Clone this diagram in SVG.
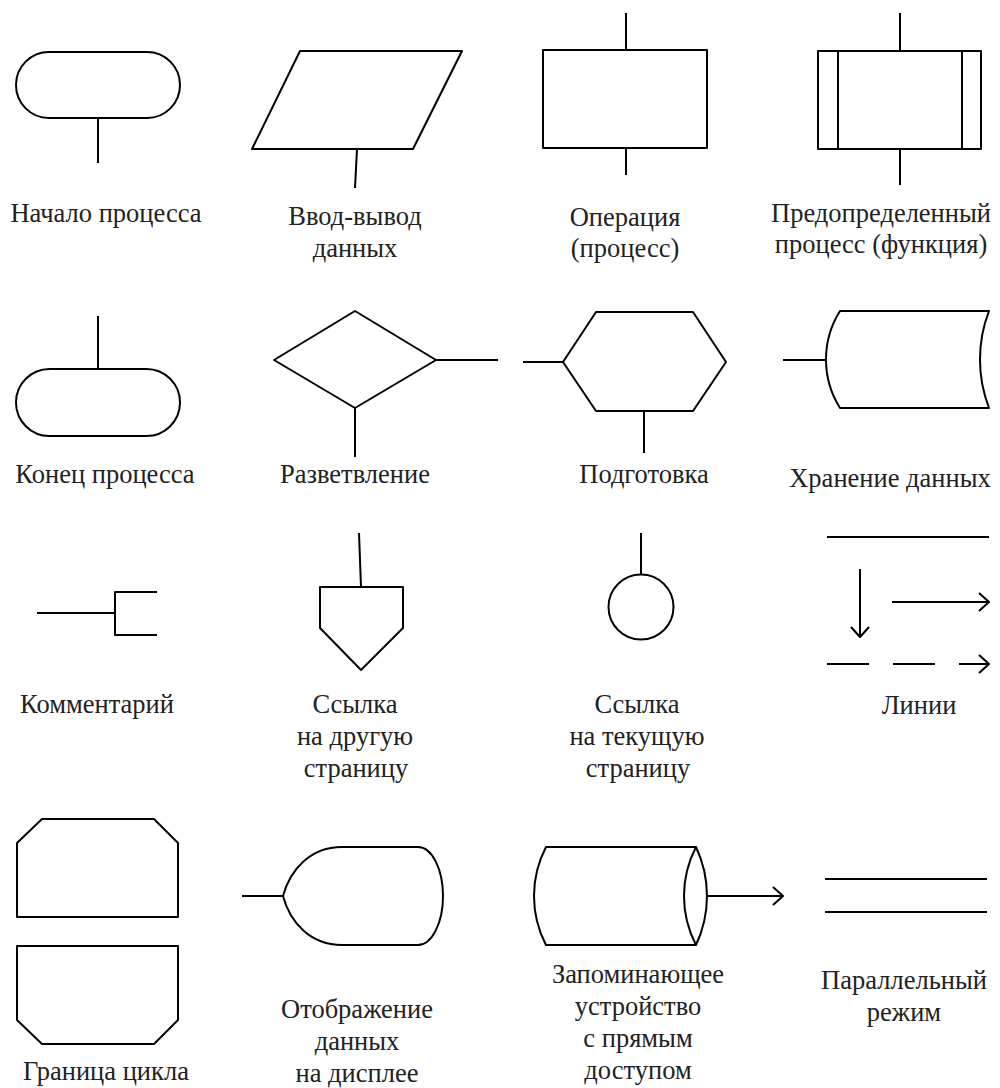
<svg xmlns="http://www.w3.org/2000/svg" width="1000" height="1088" viewBox="0 0 1000 1088">
<style>
.s{fill:none;stroke:#000;stroke-width:2;stroke-linejoin:round}
.t{font-family:"Liberation Serif","Times New Roman",serif;font-size:26.5px;fill:#222;text-anchor:middle}
</style>
<defs>
<marker id="ah" markerUnits="userSpaceOnUse" viewBox="0 0 12 20" refX="11" refY="10" markerWidth="12" markerHeight="20" orient="auto">
<path d="M1,1 L11,10 L1,19" fill="none" stroke="#000" stroke-width="2" stroke-linejoin="round"/>
</marker>
</defs>
<rect width="1000" height="1088" fill="#fff"/>

<g id="start">
<rect class="s" x="16" y="52" width="164" height="66" rx="33"/>
<text class="t" x="106" y="222">Начало процесса</text>
</g>
<g id="io">
<polygon class="s" points="300,51 462,51 413,149 252,149"/>
<text class="t" x="355" y="225">Ввод-вывод</text>
<text class="t" x="355" y="257">данных</text>
</g>
<g id="process">
<rect class="s" x="543" y="50" width="164" height="98"/>
<text class="t" x="625" y="226">Операция</text>
<text class="t" x="625" y="257">(процесс)</text>
</g>
<g id="predefined">
<rect class="s" x="818" y="51" width="163" height="98"/>
<line class="s" x1="838" y1="51" x2="838" y2="149"/>
<line class="s" x1="962" y1="51" x2="962" y2="149"/>
<text class="t" x="881" y="222">Предопределенный</text>
<text class="t" x="881" y="253">процесс (функция)</text>
</g>

<g id="end">
<rect class="s" x="16" y="369" width="164" height="67" rx="33.5"/>
<text class="t" x="105" y="483">Конец процесса</text>
</g>
<g id="decision">
<polygon class="s" points="274,360 355,311 436,360 355,408"/>
<text class="t" x="355" y="483">Разветвление</text>
</g>
<g id="preparation">
<polygon class="s" points="563,362 596,312 693,312 726,362 693,411 596,411"/>
<text class="t" x="644" y="483">Подготовка</text>
</g>
<g id="storage">
<path class="s" d="M840,311 L989,311 A135,135 0 0 0 989,408 L840,408 A91,91 0 0 1 840,311 Z"/>
<text class="t" x="890" y="487">Хранение данных</text>
</g>

<g id="comment">
<path class="s" d="M157,592 L115,592 L115,635 L157,635"/>
<text class="t" x="97" y="713">Комментарий</text>
</g>
<g id="offpage">
<polygon class="s" points="320,587 403,587 403,628 361,670 320,628"/>
<text class="t" x="355" y="713">Ссылка</text>
<text class="t" x="355" y="745">на другую</text>
<text class="t" x="356" y="777">страницу</text>
</g>
<g id="onpage">
<circle class="s" cx="641" cy="607" r="32.5"/>
<text class="t" x="637" y="713">Ссылка</text>
<text class="t" x="637" y="745">на текущую</text>
<text class="t" x="638" y="777">страницу</text>
</g>
<g id="lines">
<line class="s" x1="827" y1="537" x2="989" y2="537"/>
<line class="s" x1="860" y1="569" x2="860" y2="637" marker-end="url(#ah)"/>
<line class="s" x1="892" y1="602" x2="989" y2="602" marker-end="url(#ah)"/>
<line class="s" x1="827" y1="664" x2="989" y2="664" stroke-dasharray="42 24" marker-end="url(#ah)"/>
<text class="t" x="919" y="714">Линии</text>
</g>

<g id="loop">
<polygon class="s" points="17,843 42,819 154,819 178,843 178,917 17,917"/>
<polygon class="s" points="17,946 178,946 178,1020 154,1044 42,1044 17,1020"/>
<text class="t" x="106" y="1080">Граница цикла</text>
</g>
<g id="display">
<path class="s" d="M283,896 C290,870 310,847 342,847 L418,847 A25,49 0 0 1 418,945 L342,945 C310,945 290,922 283,896 Z"/>
<text class="t" x="357" y="1018">Отображение</text>
<text class="t" x="357" y="1050">данных</text>
<text class="t" x="357" y="1082">на дисплее</text>
</g>
<g id="directaccess">
<path class="s" d="M696,847 L546,847 A106,106 0 0 0 546,945 L696,945"/>
<path class="s" d="M696,847 A106,106 0 0 0 696,945 A115,115 0 0 0 696,847 Z"/>
<text class="t" x="638" y="983">Запоминающее</text>
<text class="t" x="638" y="1015">устройство</text>
<text class="t" x="638" y="1047">с прямым</text>
<text class="t" x="638" y="1079">доступом</text>
</g>
<g id="parallel">
<line class="s" x1="825" y1="879" x2="987" y2="879"/>
<line class="s" x1="825" y1="912" x2="987" y2="912"/>
<text class="t" x="904" y="989">Параллельный</text>
<text class="t" x="904" y="1021">режим</text>
</g>

<g id="connectors">
<line class="s" x1="98" y1="118" x2="98" y2="163"/>
<line class="s" x1="357" y1="149" x2="355" y2="188"/>
<line class="s" x1="626" y1="13" x2="626" y2="50"/>
<line class="s" x1="626" y1="148" x2="626" y2="175"/>
<line class="s" x1="900" y1="13" x2="900" y2="51"/>
<line class="s" x1="900" y1="149" x2="900" y2="185"/>
<line class="s" x1="98" y1="316" x2="98" y2="369"/>
<line class="s" x1="436" y1="360" x2="498" y2="360"/>
<line class="s" x1="355" y1="408" x2="355" y2="457"/>
<line class="s" x1="523" y1="362" x2="563" y2="362"/>
<line class="s" x1="644" y1="411" x2="644" y2="453"/>
<line class="s" x1="783" y1="360" x2="826" y2="360"/>
<line class="s" x1="37" y1="613" x2="115" y2="613"/>
<line class="s" x1="359" y1="533" x2="361" y2="587"/>
<line class="s" x1="641" y1="533" x2="641" y2="574.5"/>
<line class="s" x1="242" y1="896" x2="283" y2="896"/>
<line class="s" x1="707" y1="896" x2="783" y2="896" marker-end="url(#ah)"/>
</g>
</svg>
